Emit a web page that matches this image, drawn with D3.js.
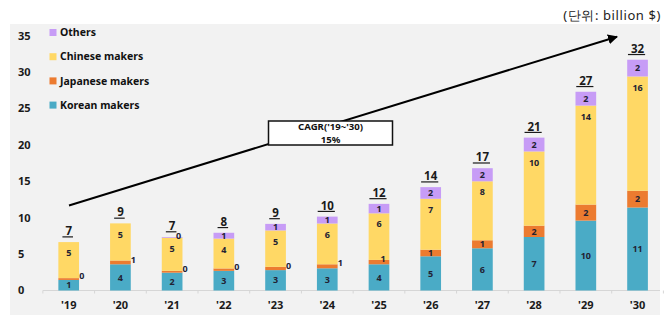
<!DOCTYPE html>
<html>
<head>
<meta charset="utf-8">
<script src="https://cdn.jsdelivr.net/npm/d3@7/dist/d3.min.js"></script>
<style>
  html, body { margin: 0; padding: 0; background: #ffffff; }
  svg { display: block; }
  text { font-family: "Noto Sans", "Open Sans", sans-serif; }
</style>
</head>
<body>
<svg id="chart" width="671" height="326"></svg>
<script>
// Market size by maker group, billion $
const years    = ["'19", "'20", "'21", "'22", "'23", "'24", "'25", "'26", "'27", "'28", "'29", "'30"];
const korean   = [1.45, 3.6, 2.45, 2.7, 2.8, 3.05, 3.6, 4.7, 5.8, 7.35, 9.6, 11.4];
const japanese = [0.25, 0.52, 0.25, 0.33, 0.45, 0.55, 0.6, 0.9, 1.1, 1.55, 2.2, 2.3];
const chinese  = [4.95, 5.1, 4.55, 4.1, 5.0, 5.6, 6.4, 7.0, 8.1, 10.2, 13.6, 15.7];
const others   = [0, 0, 0.1, 0.8, 0.9, 0.95, 1.3, 1.6, 1.8, 1.9, 1.9, 2.3];
const yTicks   = [0, 5, 10, 15, 20, 25, 30, 35];
const seriesNames = ["Korean makers", "Japanese makers", "Chinese makers", "Others"];
const unitText = "(단위: billion $)";
const cagrLines = ["CAGR('19~'30)", "15%"];

const colors = {
  "Korean makers": "#4aabc6",
  "Japanese makers": "#ec7b30",
  "Chinese makers": "#ffd865",
  "Others": "#c79cf6"
};

const rows = years.map((y, i) => ({
  year: y,
  "Korean makers": korean[i],
  "Japanese makers": japanese[i],
  "Chinese makers": chinese[i],
  "Others": others[i]
}));

const svg = d3.select("#chart");

// panel background
svg.append("rect").attr("x", 10).attr("y", 24).attr("width", 650).attr("height", 291)
  .attr("fill", "#f2f2f2");

const x = d3.scaleBand().domain(years).range([42.85, 663.4])
  .paddingInner(0.6).paddingOuter(0.3);
const y = d3.scaleLinear().domain([0, 35]).range([290.5, 35.7]);

const stack = d3.stack().keys(seriesNames);
const layers = stack(rows);

// y tick labels
svg.append("g").selectAll("text").data(yTicks).join("text")
  .attr("x", 18).attr("y", d => y(d)).attr("dy", "0.35em")
  .attr("font-size", 11).attr("font-weight", 700).attr("fill", "#1a1a1a")
  .text(d => d);

// x axis baseline with small separators
const axisG = svg.append("g");
axisG.append("line").attr("x1", 42.85).attr("x2", 660).attr("y1", y(0)).attr("y2", y(0))
  .attr("stroke", "#d6d6d6").attr("stroke-width", 1.2);
const step = x.step();
axisG.selectAll("line.sep").data(d3.range(years.length + 1)).join("line")
  .attr("class", "sep")
  .attr("x1", i => x(years[0]) + x.bandwidth() / 2 - step / 2 + i * step)
  .attr("x2", i => x(years[0]) + x.bandwidth() / 2 - step / 2 + i * step)
  .attr("y1", y(0)).attr("y2", y(0) + 3)
  .attr("stroke", "#d6d6d6").attr("stroke-width", 1);

// x tick labels
svg.append("g").selectAll("text").data(years).join("text")
  .attr("x", d => x(d) + x.bandwidth() / 2).attr("y", 305).attr("dy", "0.35em")
  .attr("text-anchor", "middle")
  .attr("font-size", 11).attr("font-weight", 700).attr("fill", "#1a1a1a")
  .text(d => d);

// stacked bars
const barG = svg.append("g");
layers.forEach(layer => {
  barG.append("g").attr("fill", colors[layer.key])
    .selectAll("rect").data(layer).join("rect")
    .attr("x", d => x(d.data.year))
    .attr("width", x.bandwidth())
    .attr("y", d => y(d[1]))
    .attr("height", d => y(d[0]) - y(d[1]));
});

// segment value labels
const fmt = v => String(Math.round(v));
const labelG = svg.append("g").attr("font-size", 9).attr("font-weight", 700)
  .attr("fill", "#222233").attr("text-anchor", "middle");
layers.forEach(layer => {
  layer.forEach(d => {
    const v = d[1] - d[0];
    if (v <= 0) return;
    const cx = x(d.data.year) + x.bandwidth() / 2;
    let lx = cx, ly = (y(d[0]) + y(d[1])) / 2;
    if (layer.key === "Chinese makers") {
      ly = y(d[1]) + 11;
    } else if (layer.key === "Japanese makers" && v < 0.58) {
      lx = cx + 13;
      ly = ly - 3;
    } else if (layer.key === "Japanese makers" && v < 0.8) {
      lx = cx + 4;
      ly = ly - 3;
    } else if (layer.key === "Others" && v < 0.3) {
      lx = cx + 6.5;
      ly = y(d[1]) - 1;
    }
    labelG.append("text").attr("x", lx).attr("y", ly).attr("dy", "0.35em").text(fmt(v));
  });
});

// totals, underlined
const totalG = svg.append("g");
rows.forEach((r, i) => {
  const total = korean[i] + japanese[i] + chinese[i] + others[i];
  const cx = x(r.year) + x.bandwidth() / 2;
  const base = y(total) - 7;
  const t = totalG.append("text").attr("x", cx).attr("y", base)
    .attr("text-anchor", "middle").attr("font-size", 11.5).attr("font-weight", 700)
    .attr("fill", "#1a1a1a").text(fmt(total));
  const w = t.node().getComputedTextLength();
  totalG.append("line")
    .attr("x1", cx - w / 2 - 3).attr("x2", cx + w / 2 + 1)
    .attr("y1", base + 1.8).attr("y2", base + 1.8)
    .attr("stroke", "#1a1a1a").attr("stroke-width", 1.2);
});

// legend (top to bottom: Others, Chinese, Japanese, Korean)
const legendOrder = ["Others", "Chinese makers", "Japanese makers", "Korean makers"];
const lg = svg.append("g");
legendOrder.forEach((name, i) => {
  const cy = 32.5 + i * 24.2;
  lg.append("rect").attr("x", 49.5).attr("y", cy - 3.5).attr("width", 7).attr("height", 7)
    .attr("fill", colors[name]);
  lg.append("text").attr("x", 60).attr("y", cy).attr("dy", "0.35em")
    .attr("font-size", 10.5).attr("font-weight", 700).attr("fill", "#111")
    .text(name);
});

// growth arrow
const defs = svg.append("defs");
defs.append("marker").attr("id", "arrowhead").attr("viewBox", "0 0 10 10")
  .attr("refX", 9).attr("refY", 5).attr("markerWidth", 5).attr("markerHeight", 5)
  .attr("orient", "auto")
  .append("path").attr("d", "M0,0 L10,5 L0,10 Z").attr("fill", "#000");
svg.append("line").attr("x1", 69).attr("y1", 205.5).attr("x2", 617).attr("y2", 36.7)
  .attr("stroke", "#000").attr("stroke-width", 2).attr("marker-end", "url(#arrowhead)");

// CAGR box
svg.append("rect").attr("x", 268.5).attr("y", 121).attr("width", 124).attr("height", 24)
  .attr("fill", "#ffffff").attr("stroke", "#111").attr("stroke-width", 1.5);
svg.append("g").selectAll("text").data(cagrLines).join("text")
  .attr("x", 330.5).attr("y", (d, i) => 127 + i * 12.6).attr("dy", "0.35em")
  .attr("text-anchor", "middle").attr("font-size", 9.6).attr("font-weight", 700)
  .attr("fill", "#111").text(d => d);

// unit note
svg.append("text").attr("x", 661).attr("y", 15).attr("dy", "0.35em")
  .attr("text-anchor", "end").attr("font-size", 13).attr("letter-spacing", 0.6)
  .attr("font-family", "'Noto Sans CJK KR', 'Noto Sans', sans-serif")
  .attr("fill", "#222").text(unitText);
</script>
</body>
</html>
